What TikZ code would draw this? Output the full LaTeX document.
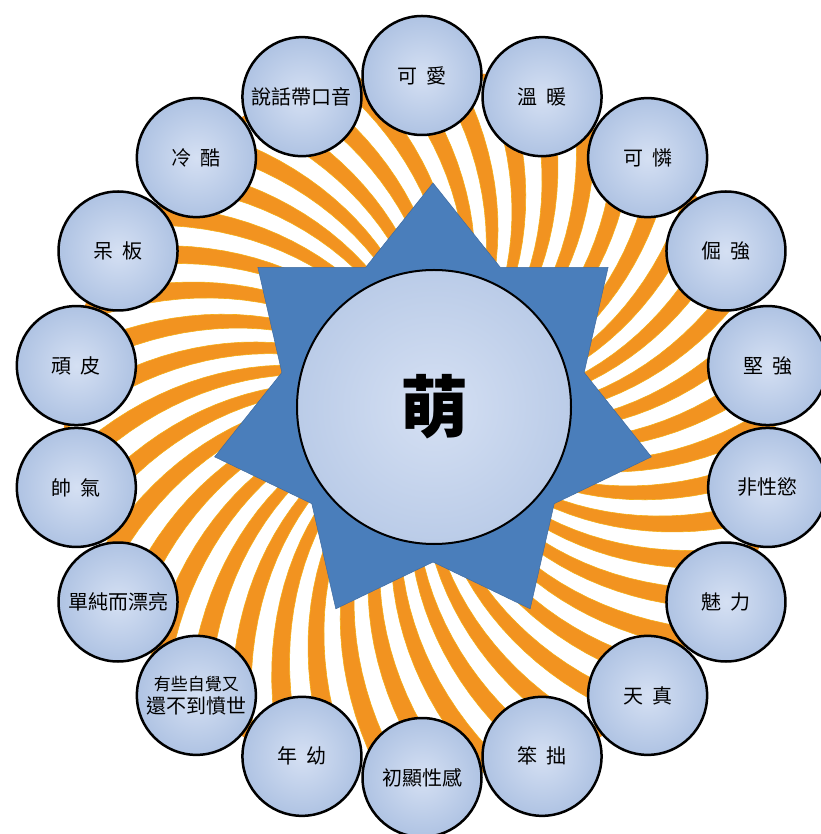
\documentclass[tikz,border=0pt]{standalone}
\usepackage{fontspec}
\usepackage{tikz}
\usetikzlibrary{shapes.geometric}
\newfontfamily\cjk[WordSpace=2]{Noto Sans CJK TC}
\definecolor{rayorange}{HTML}{F29320}
\definecolor{starblue}{HTML}{4A7EBB}
\definecolor{bubin}{HTML}{D5E0F3}
\definecolor{bubout}{HTML}{AFC3E3}
\tikzstyle{bub} = [circle, draw=black, line width=2.5pt, minimum size=119pt, inner sep=0pt, align=center, inner color=bubin, outer color=bubout, text=black, font=\cjk\fontsize{20}{23}\selectfont]
\tikzstyle{hub} = [circle, draw=black, line width=2pt, minimum size=274pt, inner sep=0pt, inner color=bubin, outer color=bubout!70!bubin, text=black, font=\cjk\bfseries\fontsize{68}{70}\selectfont]
\tikzstyle{sev} = [star, star points=7, star point ratio=1.445, minimum size=448pt, inner sep=0pt, fill=starblue, draw=starblue!85!black, line width=0.5pt]
\tikzstyle{ray} = [fill=rayorange, draw=rayorange!75!yellow, line width=0.6pt]

\begin{document}
\begin{tikzpicture}[x=1pt, y=1pt]
	\useasboundingbox (-422,-407.5) rectangle (398,426.5);
	\fill[white] (-422,-407.5) rectangle (398,426.5);

	\begin{scope}
		\clip (0,0) circle (358);
		\begin{scope}[shift={(11,19.5)}]
			\foreach \i in {0,...,43}
				\fill[ray] plot[domain=0:420, samples=30] ({\i*360/44+0.11*\x}:\x)
					-- plot[domain=420:0, samples=30] ({\i*360/44+3.9+0.11*\x}:\x) -- cycle;
		\end{scope}
	\end{scope}

	\node[sev] (sr) at (11,19.5) {};
	\node[hub] (m) at (12,19.5) {萌};

	\foreach \t [count=\n from 0] in {可 愛, 溫 暖, 可 憐, 倔 強, 堅 強, 非性慾, 魅 力, 天 真, 笨 拙, 初顯性感, 年 幼,
			{\fontsize{17}{20}\selectfont 有些自覺又\\還不到憤世}, 單純而漂亮, 帥 氣, 頑 皮, 呆 板, 冷 酷, 說話帶口音}
		\node[bub] (k\n) at ({90-20*\n}:351) {\t};
\end{tikzpicture}
\end{document}
